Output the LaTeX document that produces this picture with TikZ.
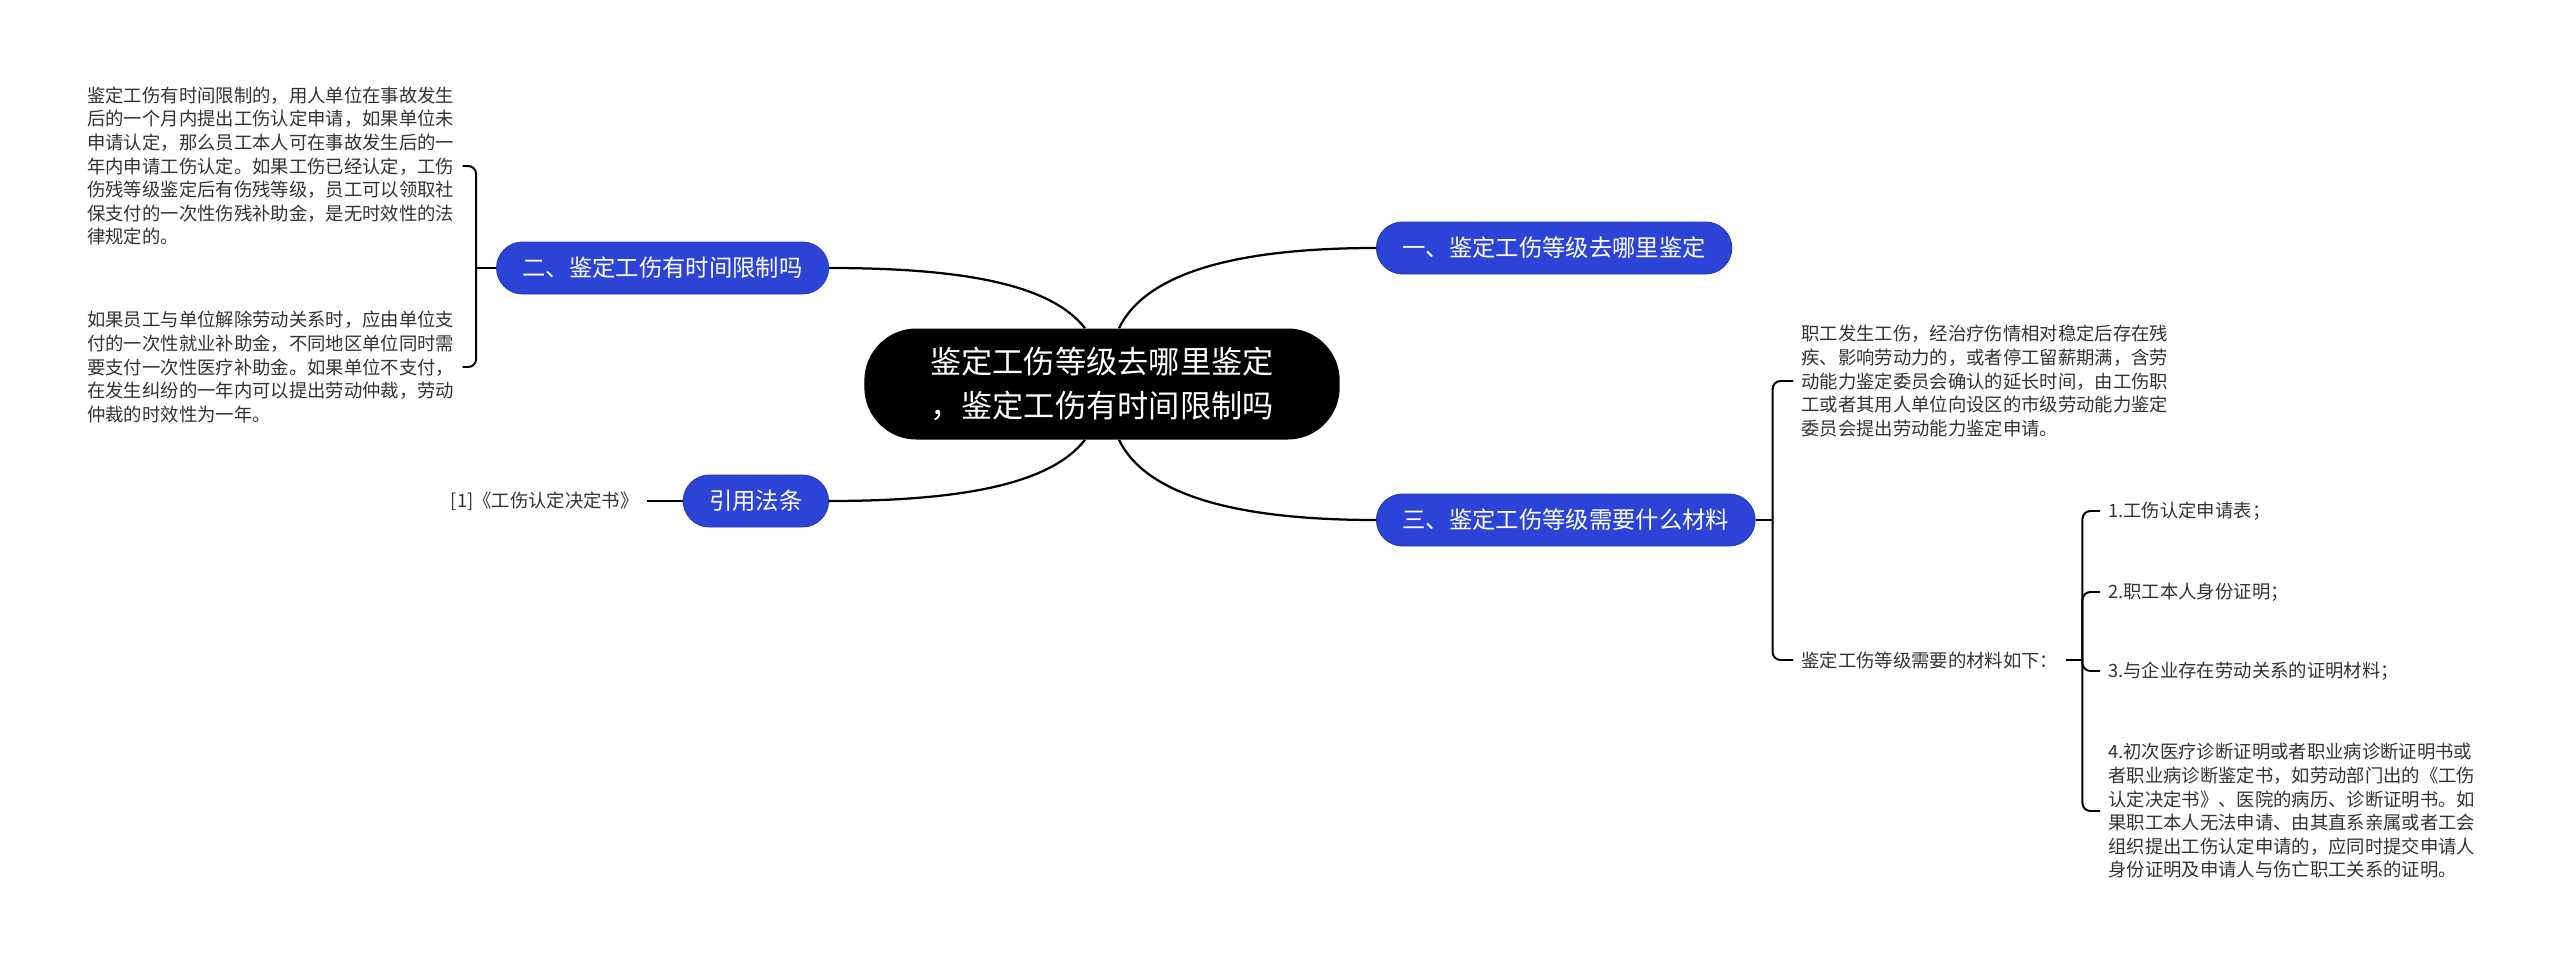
\documentclass[tikz,border=0pt]{standalone}
\usepackage{fontspec}
\setmainfont{Noto Sans CJK SC}
\usepackage{xcolor}
\usepackage{tikz}
\usetikzlibrary{positioning,calc}
\definecolor{MapBlue}{HTML}{2C44D6}
\definecolor{MapBlueEdge}{HTML}{2236B8}
\definecolor{MapInk}{HTML}{333333}
\tikzset{
  mmroot/.style={
    fill=black,
    text=white,
    rounded corners=13mm,
    minimum height=27.75mm,
    inner xsep=16.5mm,
    align=center,
    font=\fontsize{22.2}{31.3}\selectfont
  },
  mmtopic/.style={
    fill=MapBlue,
    draw=MapBlueEdge,
    line width=0.6pt,
    text=white,
    rounded corners=6.5mm,
    minimum height=13mm,
    inner xsep=6.5mm,
    inner ysep=0pt,
    font=\fontsize{16.6}{20}\selectfont
  },
  mmleaf/.style={
    text=MapInk,
    align=left,
    inner xsep=2mm,
    inner ysep=1mm,
    font=\fontsize{13.05}{16.8}\selectfont
  },
  mmlink/.style={line width=1.6pt, draw=black},
  mmbrace/.style={line width=1.4pt, draw=black, rounded corners=2mm}
}
\begin{document}
\begin{tikzpicture}[x=0.25mm, y=-0.25mm, node distance=9mm]
  \fill[white] (0,0) rectangle (2560,967);
  \useasboundingbox (0,0) rectangle (2560,967);
  \node[mmroot] (root) at (1102,384) {鉴定工伤等级去哪里鉴定\\，鉴定工伤有时间限制吗};
  \node[mmtopic, anchor=west] (where) at (1376,248) {一、鉴定工伤等级去哪里鉴定};
  \node[mmtopic, anchor=east] (limit) at (829,268) {二、鉴定工伤有时间限制吗};
  \node[mmtopic, anchor=east] (cite) at (829,501) {引用法条};
  \node[mmtopic, anchor=west] (needs) at (1376,520) {三、鉴定工伤等级需要什么材料};
  \node[mmleaf, anchor=west] (noterm) at (79,166)
    {鉴定工伤有时间限制的，用人单位在事故发生\\后的一个月内提出工伤认定申请，如果单位未\\申请认定，那么员工本人可在事故发生后的一\\年内申请工伤认定。如果工伤已经认定，工伤\\伤残等级鉴定后有伤残等级，员工可以领取社\\保支付的一次性伤残补助金，是无时效性的法\\律规定的。};
  \node[mmleaf, anchor=west] (oneyear) at (79,367)
    {如果员工与单位解除劳动关系时，应由单位支\\付的一次性就业补助金，不同地区单位同时需\\要支付一次性医疗补助金。如果单位不支付，\\在发生纠纷的一年内可以提出劳动仲裁，劳动\\仲裁的时效性为一年。};
  \node[mmleaf, left=of cite] (book) {[1]《工伤认定决定书》};
  \node[mmleaf, anchor=west] (apply) at (1793,381)
    {职工发生工伤，经治疗伤情相对稳定后存在残\\疾、影响劳动力的，或者停工留薪期满，含劳\\动能力鉴定委员会确认的延长时间，由工伤职\\工或者其用人单位向设区的市级劳动能力鉴定\\委员会提出劳动能力鉴定申请。};
  \node[mmleaf, anchor=west] (list) at (1793,660) {鉴定工伤等级需要的材料如下：};
  \node[mmleaf, anchor=west] (form) at (2100,511) {1.工伤认定申请表；};
  \node[mmleaf, anchor=west] (idcard) at (2100,592) {2.职工本人身份证明；};
  \node[mmleaf, anchor=west] (labor) at (2100,671) {3.与企业存在劳动关系的证明材料；};
  \node[mmleaf, anchor=west] (diagnosis) at (2100,811)
    {4.初次医疗诊断证明或者职业病诊断证明书或\\者职业病诊断鉴定书，如劳动部门出的《工伤\\认定决定书》、医院的病历、诊断证明书。如\\果职工本人无法申请、由其直系亲属或者工会\\组织提出工伤认定申请的，应同时提交申请人\\身份证明及申请人与伤亡职工关系的证明。};
  \draw[mmlink] ($(root.north)+(-17,0)$) .. controls +(-35,-45) and +(130,0) .. (limit.east);
  \draw[mmlink] ($(root.north)+(17,0)$) .. controls +(30,-62) and +(-120,0) .. (where.west);
  \draw[mmlink] ($(root.south)+(-17,0)$) .. controls +(-35,45) and +(130,0) .. (cite.east);
  \draw[mmlink] ($(root.south)+(17,0)$) .. controls +(30,62) and +(-120,0) .. (needs.west);
  \coordinate (limitfork) at ($(limit.west)+(-20,0)$);
  \draw[mmlink] (limit.west) -- (limitfork);
  \draw[mmbrace] (limitfork) |- (noterm.east);
  \draw[mmbrace] (limitfork) |- (oneyear.east);
  \draw[mmlink] (cite.west) -- (book.east);
  \coordinate (needsfork) at ($(needs.east)+(17,0)$);
  \draw[mmlink] (needs.east) -- (needsfork);
  \draw[mmbrace] (needsfork) |- (apply.west);
  \draw[mmbrace] (needsfork) |- (list.west);
  \coordinate (listfork) at ($(list.east)+(16,0)$);
  \draw[mmlink] (list.east) -- (listfork);
  \draw[mmbrace] (listfork) |- (form.west);
  \draw[mmbrace] (listfork) |- (idcard.west);
  \draw[mmbrace] (listfork) |- (labor.west);
  \draw[mmbrace] (listfork) |- (diagnosis.west);
\end{tikzpicture}
\end{document}
